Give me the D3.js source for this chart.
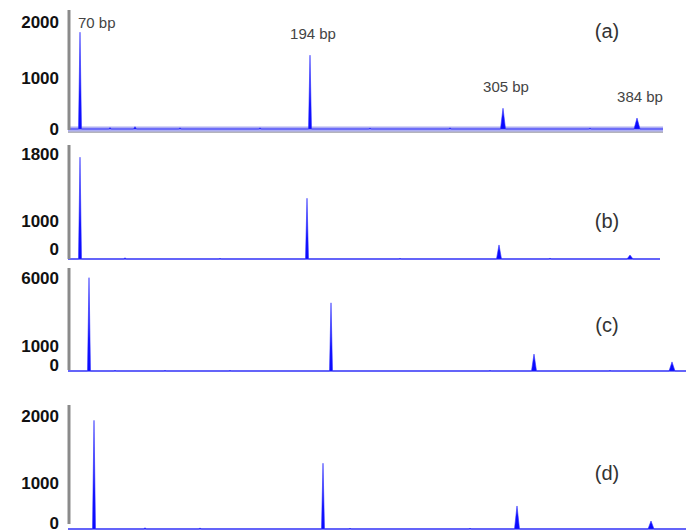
<!DOCTYPE html>
<html>
<head>
<meta charset="utf-8">
<script src="https://cdn.jsdelivr.net/npm/d3@7"></script>
<style>
body { margin: 0; background: #fff; }
text { font-family: "Liberation Sans", Arial, sans-serif; }
</style>
</head>
<body>
<div id="chart"></div>
<script>
// Data

var fragments = ["70 bp", "194 bp", "305 bp", "384 bp"];
var panelNames = ["(a)", "(b)", "(c)", "(d)"];

// scan position of each fragment peak
var peakPosA = [10, 240, 433, 567];
var peakPosB = [10, 237, 429, 560];
var peakPosC = [19, 261, 464, 602];
var peakPosD = [24, 253, 447, 581];

// peak heights (RFU)
var peakHtA = [1800, 1390, 400, 210];
var peakHtB = [1750, 1260, 360, 100];
var peakHtC = [5950, 4100, 650, 350];
var peakHtD = [1920, 1280, 490, 170];

// peak width at base (scans)
var peakWidth = [3, 3, 5, 6];

// small baseline bumps: [scan, height]
var noiseA = [[40, 25], [65, 45], [110, 20], [190, 20], [300, 15], [380, 20], [520, 15]];
var noiseB = [[55, 30], [150, 15], [330, 15], [480, 20]];
var noiseC = [[45, 20], [95, 15], [160, 15], [420, 15], [540, 15]];
var noiseD = [[75, 25], [130, 20], [280, 15], [400, 15]];

// y tick labels
var ticksA = [0, 1000, 2000];
var ticksB = [0, 1000, 1800];
var ticksC = [0, 1000, 6000];
var ticksD = [0, 1000, 2000];

// scan range of each trace
var scanEnd = [593, 590, 616, 616];

// Layout
var w = 686, h = 531;

var layout = [
  { base: 129, y1000: 77,  yTop: 21,  zero: 128, axisTop: 10,  axisBottom: 130, nameY: 38 },
  { base: 259, y1000: 220, yTop: 153, zero: 248, axisTop: 145, axisBottom: 259, nameY: 228 },
  { base: 371, y1000: 345, yTop: 277, zero: 364, axisTop: 268, axisBottom: 370, nameY: 332 },
  { base: 529, y1000: 482, yTop: 415, zero: 522, axisTop: 405, axisBottom: 524, nameY: 480 }
];

var panels = [
  { pos: peakPosA, ht: peakHtA, noise: noiseA, ticks: ticksA },
  { pos: peakPosB, ht: peakHtB, noise: noiseB, ticks: ticksB },
  { pos: peakPosC, ht: peakHtC, noise: noiseC, ticks: ticksC },
  { pos: peakPosD, ht: peakHtD, noise: noiseD, ticks: ticksD }
];

var x = d3.scaleLinear().domain([0, 616]).range([70, 686]);

var svg = d3.select("#chart")
  .append("svg")
  .attr("width", w)
  .attr("height", h);

panels.forEach(function(p, i) {
  var L = layout[i];
  var y = d3.scaleLinear()
    .domain(p.ticks)
    .range([L.base, L.y1000, L.yTop]);

  var g = svg.append("g");

  // trace points: baseline with triangular peaks
  var bumps = p.pos.map(function(t, k) { return { t: t, h: p.ht[k], wd: peakWidth[k] }; })
    .concat(p.noise.map(function(n) { return { t: n[0], h: n[1], wd: 3 }; }))
    .sort(function(a, b) { return a.t - b.t; });

  var pts = [[-2, 0]];
  bumps.forEach(function(b) {
    pts.push([b.t - b.wd / 2, 0], [b.t, b.h], [b.t + b.wd / 2, 0]);
  });
  pts.push([scanEnd[i], 0]);

  // baseline
  if (i === 0) {
    g.append("line")
      .attr("x1", x(-2)).attr("x2", x(scanEnd[i]))
      .attr("y1", L.base + 3).attr("y2", L.base + 3)
      .style("stroke", "#b4b4bc")
      .style("stroke-width", 2);
    g.append("line")
      .attr("x1", x(-2)).attr("x2", x(scanEnd[i]))
      .attr("y1", L.base).attr("y2", L.base)
      .style("stroke", "#aeaef2")
      .style("stroke-width", 5);
  } else {
    g.append("line")
      .attr("x1", x(-2)).attr("x2", x(scanEnd[i]))
      .attr("y1", L.base).attr("y2", L.base)
      .style("stroke", "#9c9cf4")
      .style("stroke-width", 2);
  }

  var area = d3.area()
    .x(function(d) { return x(d[0]); })
    .y0(y(0))
    .y1(function(d) { return y(d[1]); });

  g.append("path")
    .datum(pts)
    .attr("d", area)
    .style("fill", "#0a0aff")
    .style("stroke", "#3030ff")
    .style("stroke-width", 0.6);

  // y axis line
  g.append("line")
    .attr("x1", 69).attr("x2", 69)
    .attr("y1", L.axisTop).attr("y2", L.axisBottom)
    .style("stroke", "#8a8a8a")
    .style("stroke-width", 3);

  var axis = g.append("g")
    .attr("transform", "translate(69,0)")
    .call(d3.axisLeft(y).tickValues(p.ticks).tickSize(0).tickPadding(10).tickFormat(d3.format("d")));
  axis.select(".domain").remove();
  axis.selectAll("text")
    .style("font-size", "17px")
    .style("font-weight", "bold")
    .style("fill", "#111")
    .attr("dy", function(d) { return d === 0 ? (L.zero - L.base + 6) + "px" : "6px"; });

  // panel name
  g.append("text")
    .attr("x", 607)
    .attr("y", L.nameY)
    .attr("text-anchor", "middle")
    .style("font-size", "20px")
    .style("fill", "#333")
    .text(panelNames[i]);

  // fragment labels on the first panel
  if (i === 0) {
    g.selectAll(".frag")
      .data(fragments)
      .enter()
      .append("text")
      .attr("class", "frag")
      .attr("x", function(d, k) { return k === 0 ? x(p.pos[k]) - 2 : x(p.pos[k]) + 3; })
      .attr("y", function(d, k) { return Math.max(y(p.ht[k]) - 16, 28); })
      .attr("text-anchor", function(d, k) { return k === 0 ? "start" : "middle"; })
      .style("font-size", "15px")
      .style("fill", "#444")
      .text(function(d) { return d; });
  }
});
</script>
</body>
</html>
